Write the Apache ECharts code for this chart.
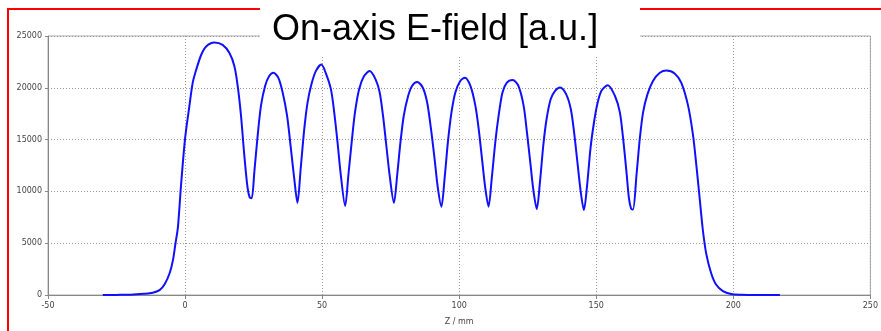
<!DOCTYPE html>
<html>
<head>
<meta charset="utf-8">
<script src="https://cdn.jsdelivr.net/npm/echarts@6/dist/echarts.min.js"></script>
<style>
  html, body { margin: 0; padding: 0; background: #fff; }
  #chart { width: 881px; height: 331px; }
</style>
</head>
<body>
<div id="chart"></div>
<script>
// on-axis field readings, Z in mm
var zPos = [-30, -25, -20, -15, -11.8, -9.3, -7.5, -5.6, -4.4, -3.5,
  -2.6, -1.5, 0, 1.6, 2.8, 4.1, 5.9, 7.7, 10.7, 13.7,
  16.2, 18, 19.2, 20.4, 21.6, 22.8, 23.6, 24.3, 25.3, 26.5,
  27.7, 29.2, 30.7, 32.2, 34, 35.6, 37.2, 38.6, 39.8, 41,
  42.2, 43.5, 44.7, 46.1, 47.7, 49.7, 51.3, 53.2, 54.4, 55.6,
  56.8, 58.4, 59.6, 60.8, 62, 63.5, 65.3, 67.3, 69.5, 71,
  72.2, 73.4, 74.6, 76.2, 77.4, 78.6, 79.8, 81.4, 82.8, 84.7,
  86.7, 88.3, 89.7, 91, 92.2, 93.5, 94.7, 95.9, 97.2, 98.6,
  100.4, 102.1, 104.1, 105.9, 107.1, 108.3, 109.5, 110.7, 111.9, 113.2,
  114.4, 115.8, 117.4, 119.5, 121.6, 123.5, 124.7, 125.9, 127.1, 128.3,
  129.5, 130.7, 131.9, 133.4, 135, 136.8, 139, 140.7, 141.9, 143.1,
  144.3, 145.5, 146.7, 147.9, 149.2, 150.4, 151.9, 154.2, 156.8, 158.6,
  159.8, 161, 161.9, 162.7, 163.4, 164.7, 165.9, 167.1, 168.7, 170.7,
  173.2, 175.6, 178.6, 181, 183.5, 185.3, 186.5, 187.7, 188.9, 190.1,
  191.9, 193.7, 196.2, 199.2, 203, 208, 213, 217];

var eField = [0, 10, 30, 120, 220, 475, 1010, 2120, 3390, 4970,
  6560, 10500, 15100, 18280, 20500, 21770, 23190, 23990, 24370, 24140,
  23350, 22080, 20180, 17330, 13530, 10360, 9400, 9350, 11950, 15430,
  18280, 20180, 21130, 21450, 20980, 19550, 17330, 14160, 11310, 8900,
  12260, 16060, 18600, 20340, 21610, 22240, 21450, 19870, 17650, 14800,
  11630, 8600, 11630, 14800, 17650, 19870, 21130, 21610, 20820, 19550,
  17330, 14480, 11630, 8900, 11630, 14800, 17330, 19230, 20180, 20560,
  20030, 18600, 16060, 13210, 10360, 8530, 11310, 14800, 17650, 19550,
  20660, 20980, 20180, 18280, 16060, 13210, 10360, 8530, 11310, 14800,
  17330, 19550, 20500, 20750, 20180, 18280, 15750, 12900, 10050, 8300,
  11000, 14480, 17010, 18920, 19710, 20030, 19390, 17970, 15750, 12900,
  10050, 8210, 10680, 14160, 16700, 18440, 19710, 20250, 19230, 17650,
  15110, 11950, 9410, 8350, 8250, 11630, 15110, 17650, 19390, 20660,
  21450, 21670, 21390, 20500, 18280, 15430, 12580, 9410, 6250, 4020,
  2120, 1010, 380, 95, 20, 0, 0, 0];

var titleText = 'On-axis E-field [a.u.]';
var xName = 'Z / mm';

var chart = echarts.init(document.getElementById('chart'));

var points = zPos.map(function (z, i) { return [z, eField[i]]; });

var option = {
  animation: false,
  grid: {
    left: 48,
    right: 9,
    top: 36,
    bottom: 32,
    show: true,
    borderColor: '#aaa',
    borderWidth: 1
  },
  graphic: [
    {
      type: 'polyline',
      shape: { points: [[8, 331], [8, 9], [881, 9]] },
      style: { stroke: '#ff0000', lineWidth: 2, fill: null },
      z: 100
    },
    {
      type: 'rect',
      shape: { x: 260, y: 0, width: 380, height: 56 },
      style: { fill: '#fff' },
      z: 101
    },
    {
      type: 'text',
      x: 272,
      y: 12,
      style: {
        text: titleText,
        font: '36px "Liberation Sans", Arial, sans-serif',
        fill: '#000'
      },
      z: 102
    }
  ],
  xAxis: {
    type: 'value',
    min: -50,
    max: 250,
    interval: 50,
    name: xName,
    nameLocation: 'middle',
    nameGap: 23,
    nameTextStyle: { color: '#444', fontSize: 8, fontFamily: 'DejaVu Sans' },
    axisLine: { onZero: false, lineStyle: { color: '#888', width: 1 } },
    axisTick: { show: true, length: 4, lineStyle: { color: '#888' } },
    axisLabel: { color: '#444', fontSize: 8, fontFamily: 'DejaVu Sans', margin: 7 },
    splitLine: { show: true, lineStyle: { color: '#999', type: [1, 2] } }
  },
  yAxis: {
    type: 'value',
    min: 0,
    max: 25000,
    interval: 5000,
    axisLine: { show: true, onZero: false, lineStyle: { color: '#888', width: 1 } },
    axisTick: { show: true, length: 3, lineStyle: { color: '#888' } },
    axisLabel: {
      color: '#444', fontSize: 8, fontFamily: 'DejaVu Sans', margin: 6,
      formatter: function (v) { return String(v); }
    },
    splitLine: { show: true, lineStyle: { color: '#999', type: [1, 2] } }
  },
  series: [{
    type: 'line',
    data: points,
    smooth: 0.3,
    symbol: 'none',
    lineStyle: { color: '#1010ff', width: 2 }
  }]
};
chart.setOption(option);
</script>
</body>
</html>
